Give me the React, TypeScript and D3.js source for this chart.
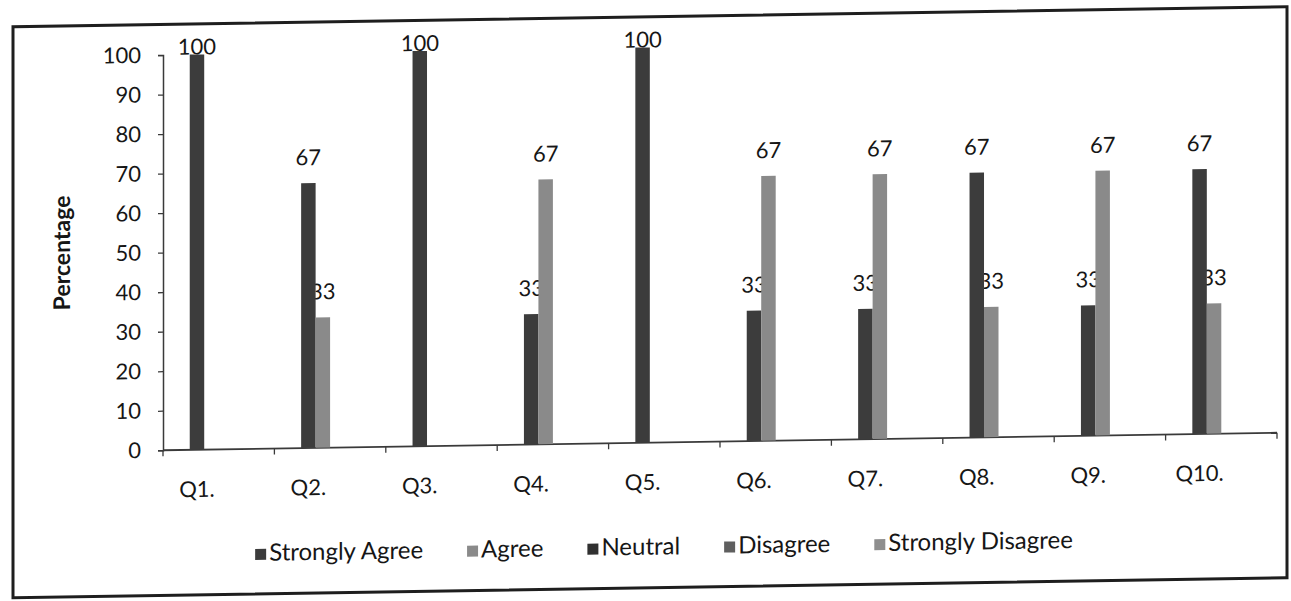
import { useEffect, useRef } from "react";
import * as d3 from "d3";

// categorias e séries
const CATEGORIES = ["Q1.", "Q2.", "Q3.", "Q4.", "Q5.", "Q6.", "Q7.", "Q8.", "Q9.", "Q10."];
const SERIES = ["Strongly Agree", "Agree", "Neutral", "Disagree", "Strongly Disagree"];

const STRONGLY_AGREE = [100, 67, 100, 33, 100, 33, 33, 67, 33, 67];
const AGREE = [0, 33, 0, 67, 0, 67, 67, 33, 67, 33];
const NEUTRAL = [0, 0, 0, 0, 0, 0, 0, 0, 0, 0];
const DISAGREE = [0, 0, 0, 0, 0, 0, 0, 0, 0, 0];
const STRONGLY_DISAGREE = [0, 0, 0, 0, 0, 0, 0, 0, 0, 0];

const Y_TICKS = [0, 10, 20, 30, 40, 50, 60, 70, 80, 90, 100];

const COLORS: Record<string, string> = {
  "Strongly Agree": "#3c3c3c",
  Agree: "#8a8a8a",
  Neutral: "#303030",
  Disagree: "#5f5f5f",
  "Strongly Disagree": "#8e8e8e"
};

const WIDTH = 1291;
const HEIGHT = 601;
const FONT = "Lato, 'Open Sans', sans-serif";
const INK = "#161616";

const App = () => {
  const svgRef = useRef<SVGSVGElement>(null);

  useEffect(() => {
    if (!svgRef.current) return;
    const svg = d3.select(svgRef.current);
    svg.selectAll("*").remove();

    const values: Record<string, number[]> = {
      "Strongly Agree": STRONGLY_AGREE,
      Agree: AGREE,
      Neutral: NEUTRAL,
      Disagree: DISAGREE,
      "Strongly Disagree": STRONGLY_DISAGREE
    };

    // scan levemente inclinado
    const root = svg.append("g").attr("transform", "skewY(-0.9)");

    // moldura
    root.append("rect")
      .attr("x", 13)
      .attr("y", 27)
      .attr("width", 1274)
      .attr("height", 571)
      .attr("fill", "none")
      .attr("stroke", "#1e1e1e")
      .attr("stroke-width", 3);

    const left = 163, right = 1277, top = 57.6, bottom = 452.8;

    const x = d3.scaleBand().domain(CATEGORIES).range([left, right]).padding(0);
    const y = d3.scaleLinear().domain([0, 100]).range([bottom, top]);

    const barW = x.bandwidth() * 0.13;
    const sub = d3.scaleBand().domain(SERIES).range([0, barW * SERIES.length]);
    const groupStart = x.bandwidth() / 2 - 2 * barW;
    const barX = (cat: string, s: string) => (x(cat) ?? 0) + groupStart + (sub(s) ?? 0);

    // eixo Y
    const yAxis = root.append("g").attr("transform", `translate(${left},0)`)
      .call(d3.axisLeft(y).tickValues(Y_TICKS).tickSize(5).tickPadding(17));
    yAxis.select(".domain").attr("stroke", "#3a3a3a").attr("stroke-width", 1.5);
    yAxis.selectAll(".tick line").attr("stroke", "#3a3a3a").attr("stroke-width", 1.3);
    yAxis.selectAll("text")
      .attr("fill", INK)
      .style("font-family", FONT)
      .style("font-size", "22px");

    // eixo X (marcas entre categorias)
    const bounds = [...CATEGORIES.map((c) => x(c) ?? 0), right];
    root.append("line")
      .attr("x1", left).attr("x2", right)
      .attr("y1", bottom).attr("y2", bottom)
      .attr("stroke", "#3a3a3a").attr("stroke-width", 1.8);
    root.append("g").selectAll("line").data(bounds).enter().append("line")
      .attr("x1", (d) => d).attr("x2", (d) => d)
      .attr("y1", bottom).attr("y2", bottom + 6)
      .attr("stroke", "#3a3a3a").attr("stroke-width", 1.3);

    // rótulos das categorias, sob a primeira barra
    root.append("g").selectAll("text").data(CATEGORIES).enter().append("text")
      .attr("x", (c) => barX(c, SERIES[0]) + barW / 2)
      .attr("y", 500)
      .attr("text-anchor", "middle")
      .attr("fill", INK)
      .style("font-family", FONT)
      .style("font-size", "22px")
      .text((c) => c);

    // rótulo Y
    root.append("text")
      .attr("transform", "translate(70,254) rotate(-90)")
      .attr("text-anchor", "middle")
      .attr("fill", INK)
      .style("font-family", FONT)
      .style("font-size", "23px")
      .style("font-weight", "700")
      .text("Percentage");

    const items = SERIES.flatMap((s) =>
      CATEGORIES.map((c, i) => ({ s, c, v: values[s][i] }))
    ).filter((d) => d.v > 0);

    // rótulos de dados (atrás das barras, como no original)
    root.append("g").selectAll("text").data(items).enter().append("text")
      .attr("x", (d) => barX(d.c, d.s) + barW / 2)
      .attr("y", (d) => Math.max(y(d.v) - 18, top))
      .attr("text-anchor", "middle")
      .attr("fill", INK)
      .style("font-family", FONT)
      .style("font-size", "22px")
      .text((d) => String(d.v));

    // barras
    root.append("g").selectAll("rect").data(items).enter().append("rect")
      .attr("x", (d) => barX(d.c, d.s))
      .attr("y", (d) => y(d.v))
      .attr("width", barW)
      .attr("height", (d) => bottom - y(d.v))
      .attr("fill", (d) => COLORS[d.s]);

    // legenda
    const legend = root.append("g");
    const entries = SERIES.map((s) => {
      const g = legend.append("g");
      g.append("rect")
        .attr("x", 0).attr("y", -12)
        .attr("width", 11).attr("height", 11)
        .attr("fill", COLORS[s]);
      const t = g.append("text")
        .attr("x", 14).attr("y", 0)
        .attr("fill", INK)
        .style("font-family", FONT)
        .style("font-size", "24px")
        .text(s);
      const w = (t.node() as SVGTextElement).getComputedTextLength() + 14;
      return { g, w };
    });
    const gap = 44;
    const total = d3.sum(entries, (e) => e.w) + gap * (entries.length - 1);
    let cx = 664 - total / 2;
    entries.forEach((e) => {
      e.g.attr("transform", `translate(${cx},565)`);
      cx += e.w + gap;
    });
  }, []);

  return (
    <svg
      ref={svgRef}
      width={WIDTH}
      height={HEIGHT}
      style={{ position: "absolute", left: 0, top: 0, background: "#fff" }}
    />
  );
};

export default App;
